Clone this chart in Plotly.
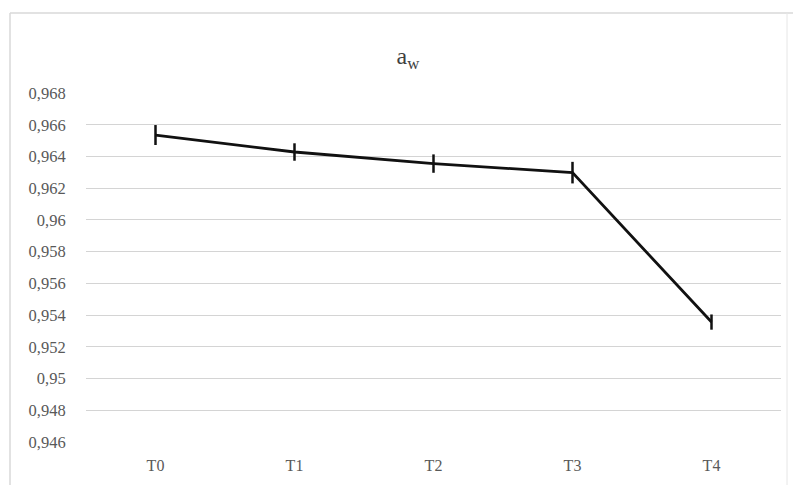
import plotly.graph_objects as go

categories = ["T0", "T1", "T2", "T3", "T4"]
aw_values = [0.96535, 0.96428, 0.96355, 0.96298, 0.95356]
aw_errors = [0.00063, 0.00055, 0.00058, 0.00068, 0.00048]
y_tick_vals = [0.946, 0.948, 0.95, 0.952, 0.954, 0.956, 0.958, 0.96, 0.962, 0.964, 0.966, 0.968]
y_tick_text = ["0,946", "0,948", "0,95", "0,952", "0,954", "0,956", "0,958", "0,96", "0,962", "0,964", "0,966", "0,968"]

W, H = 793, 485
ML, MR, MT, MB = 86, 12, 93, 43
PW, PH = W - ML - MR, H - MT - MB
SERIF = "Liberation Serif, Times New Roman, serif"

def px_x(p):
    return (p - ML) / PW

def px_y(p):
    return (H - MB - p) / PH

fig = go.Figure()
fig.add_trace(go.Scatter(
    x=categories, y=aw_values, mode="lines",
    line=dict(color="#111111", width=2.8),
    error_y=dict(type="data", array=aw_errors, visible=True,
                 color="#111111", thickness=2.5, width=0),
    showlegend=False, hoverinfo="skip",
))

fig.update_layout(
    width=W, height=H,
    margin=dict(l=ML, r=MR, t=MT, b=MB),
    paper_bgcolor="white", plot_bgcolor="white",
    title=dict(text="a<sub>w</sub>", x=px_x(408), xref="paper", xanchor="center",
               y=1 - 56 / H, yanchor="middle",
               font=dict(family=SERIF, size=24, color="#404040")),
    font=dict(family=SERIF, size=16, color="#595959"),
    shapes=[
        dict(type="line", xref="paper", yref="paper", x0=px_x(10), x1=px_x(800), y0=px_y(13), y1=px_y(13),
             line=dict(color="#d9d9d9", width=1.5)),
        dict(type="line", xref="paper", yref="paper", x0=px_x(10), x1=px_x(10), y0=px_y(13), y1=px_y(495),
             line=dict(color="#d9d9d9", width=1.5)),
        dict(type="line", xref="paper", yref="paper", x0=px_x(787), x1=px_x(787), y0=px_y(13), y1=px_y(495),
             line=dict(color="#e6e6e6", width=1)),
    ],
)
fig.update_xaxes(
    type="category", range=[-0.5, 4.5], showgrid=False, zeroline=False, showline=False,
    ticks="outside", ticklen=9, tickcolor="rgba(0,0,0,0)",
    tickfont=dict(family=SERIF, size=16, color="#595959"),
)
fig.update_yaxes(
    range=[0.946, 0.968], tickvals=y_tick_vals, ticktext=y_tick_text,
    showgrid=True, gridcolor="#d4d4d4", gridwidth=1.4, zeroline=False, showline=False,
    ticks="outside", ticklen=16, tickcolor="rgba(0,0,0,0)",
    tickfont=dict(family=SERIF, size=16.5, color="#595959"),
)

fig.write_html("out.html")
